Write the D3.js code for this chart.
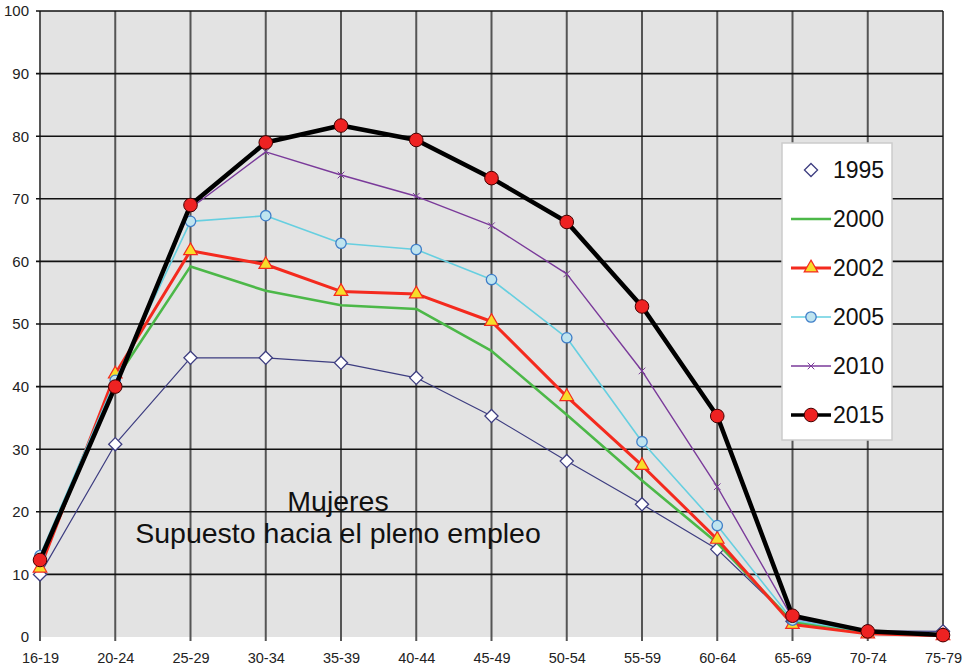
<!DOCTYPE html>
<html><head><meta charset="utf-8">
<script src="https://cdn.jsdelivr.net/npm/d3@7"></script>
<style>body{margin:0;background:#fff}svg{display:block;font-family:Arial,"Liberation Sans",sans-serif}</style>
</head><body><svg id="c" width="973" height="672"></svg>
<script>
const categories = ["16-19","20-24","25-29","30-34","35-39","40-44","45-49","50-54","55-59","60-64","65-69","70-74","75-79"];
const yTicks = [0,10,20,30,40,50,60,70,80,90,100];
const s1995 = [10,30.8,44.6,44.6,43.8,41.4,35.3,28.1,21.2,14.0,2.5,1.0,0.9];
const s2000 = [11.5,41,59.2,55.3,53.0,52.4,45.7,35.5,25.0,15.0,2.4,0.8,0.3];
const s2002 = [11,42,61.7,59.5,55.2,54.8,50.4,38.4,27.4,15.6,2.0,0.5,0.2];
const s2005 = [13,41,66.4,67.3,62.9,61.9,57.1,47.8,31.2,17.8,2.7,0.8,0.5];
const s2010 = [12,40.5,68.5,77.5,73.8,70.4,65.7,58.0,42.5,24.0,3.0,1.0,0.5];
const s2015 = [12.3,40,69,79,81.7,79.4,73.3,66.3,52.8,35.3,3.4,0.9,0.3];
const seriesNames = ["1995","2000","2002","2005","2010","2015"];
const annotation = ["Mujeres","Supuesto hacia el pleno empleo"];

const svg = d3.select("#c");
const x = d3.scalePoint().domain(categories).range([40,943]).padding(0);
const y = d3.scaleLinear().domain([0,100]).range([637,11]);

svg.append("rect").attr("x",40).attr("y",11).attr("width",903).attr("height",626).attr("fill","#e3e3e3");

// gridlines
const g = svg.append("g");
g.selectAll("line.v").data(categories).join("line")
  .attr("x1",d=>x(d)).attr("x2",d=>x(d)).attr("y1",11).attr("y2",641)
  .attr("stroke","#555").attr("stroke-width",2);
g.selectAll("line.h").data(yTicks.filter(t=>t>0)).join("line")
  .attr("x1",36).attr("x2",943).attr("y1",d=>y(d)).attr("y2",d=>y(d))
  .attr("stroke","#111").attr("stroke-width",1.6);

// axes labels
const yAxis = d3.axisLeft(y).tickValues(yTicks).tickSize(0).tickPadding(11);
const ya = svg.append("g").attr("transform","translate(40,0)").call(yAxis);
ya.select(".domain").remove();
ya.selectAll("text").attr("font-size",15).attr("fill","#222").attr("font-family","Arial,'Liberation Sans',sans-serif");
const xAxis = d3.axisBottom(x).tickSize(0).tickPadding(16);
const xa = svg.append("g").attr("transform","translate(0,637)").call(xAxis);
xa.select(".domain").remove();
xa.selectAll("text").attr("font-size",14.5).attr("fill","#222").attr("font-family","Arial,'Liberation Sans',sans-serif");

const line = d3.line().x((d,i)=>x(categories[i])).y(d=>y(d));

const specs = [
  {name:"1995",data:s1995,color:"#3d3d80",w:1.2,marker:"diamond"},
  {name:"2000",data:s2000,color:"#4cb848",w:2.6,marker:null},
  {name:"2002",data:s2002,color:"#f42a1e",w:3,marker:"triangle"},
  {name:"2005",data:s2005,color:"#66cfe0",w:1.6,marker:"circleS"},
  {name:"2010",data:s2010,color:"#7a3a9a",w:1.4,marker:"star"},
  {name:"2015",data:s2015,color:"#000",w:4.5,marker:"circleL"}
];

function drawMarker(sel, type){
  if(type==="diamond"){
    sel.append("path").attr("d",d3.symbol(d3.symbolDiamond2,110)()).attr("fill","#fff").attr("stroke","#3d3d80").attr("stroke-width",1.3);
  } else if(type==="triangle"){
    sel.append("path").attr("d",d3.symbol(d3.symbolTriangle,80)()).attr("fill","#f7dd2a").attr("stroke","#f42a1e").attr("stroke-width",1.2);
  } else if(type==="circleS"){
    sel.append("circle").attr("r",5.2).attr("fill","#bfe4ef").attr("stroke","#3f7ec8").attr("stroke-width",1.3);
  } else if(type==="star"){
    sel.append("path").attr("d",d3.symbol(d3.symbolTimes,30)()).attr("fill","#7a3a9a").attr("stroke","#7a3a9a").attr("stroke-width",1);
  } else if(type==="circleL"){
    sel.append("circle").attr("r",6.8).attr("fill","#ee2222").attr("stroke","#400").attr("stroke-width",1);
  }
}

specs.forEach(s=>{
  svg.append("path").datum(s.data).attr("d",line).attr("fill","none")
    .attr("stroke",s.color).attr("stroke-width",s.w).attr("stroke-linejoin","round");
  if(s.marker){
    s.data.forEach((v,i)=>{
      const m = svg.append("g").attr("transform",`translate(${x(categories[i])},${y(v)})`);
      drawMarker(m,s.marker);
    });
  }
});

// annotation
svg.append("text").attr("x",338).attr("y",511).attr("text-anchor","middle").attr("font-size",28.5).attr("fill","#111").text(annotation[0]);
svg.append("text").attr("x",338).attr("y",543).attr("text-anchor","middle").attr("font-size",28.5).attr("fill","#111").text(annotation[1]);

// legend
const lg = svg.append("g");
lg.append("rect").attr("x",782).attr("y",143).attr("width",110).attr("height",297).attr("fill","#fff").attr("stroke","#ccc").attr("stroke-width",1.5);
specs.forEach((s,i)=>{
  const cy = 170 + i*49;
  if(s.name!=="1995"){
    lg.append("line").attr("x1",791).attr("x2",831).attr("y1",cy).attr("y2",cy)
      .attr("stroke",s.color).attr("stroke-width",Math.min(s.w,3.5));
  }
  if(s.marker){
    const m = lg.append("g").attr("transform",`translate(811,${cy})`);
    drawMarker(m,s.marker);
  }
  lg.append("text").attr("x",833).attr("y",cy+8).attr("font-size",23).attr("fill","#111").text(s.name);
});
</script></body></html>
